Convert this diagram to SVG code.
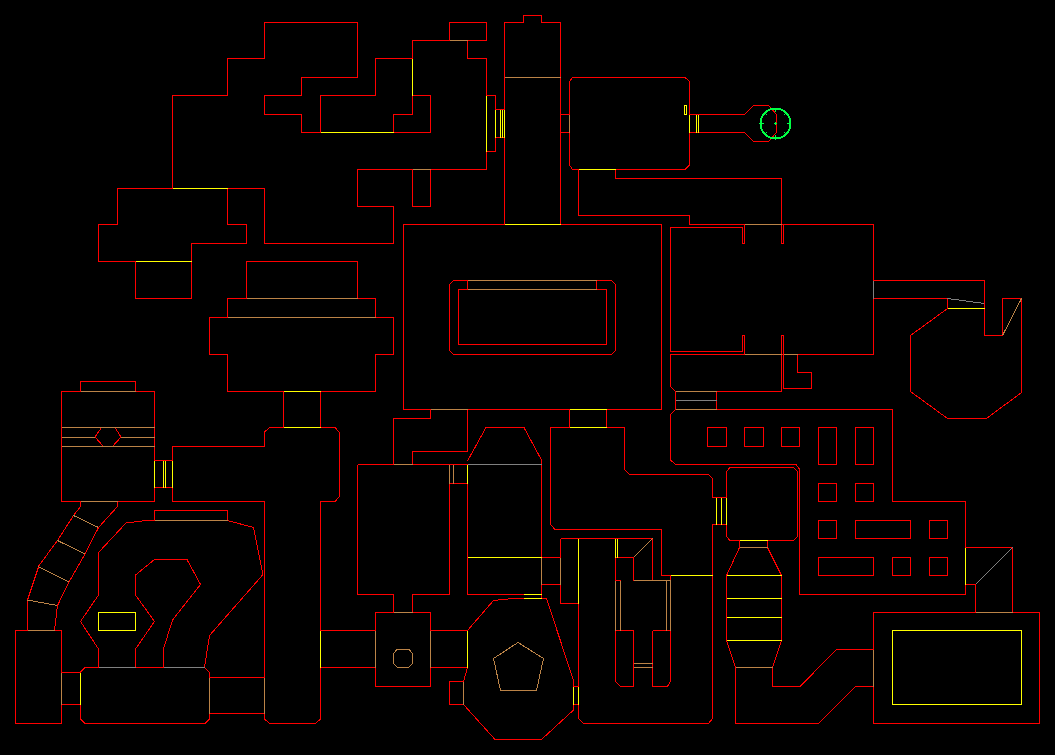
<svg xmlns="http://www.w3.org/2000/svg" width="1055" height="755" viewBox="0 0 1055 755">
<style>
path,circle{fill:none;stroke-width:1;shape-rendering:crispEdges}
.r{stroke:#ff0000}.y{stroke:#ffff00}.b{stroke:#bb8347}.g{stroke:#808080}
.c{stroke:#00ff44}
</style>
<rect width="1055" height="755" fill="#000000"/>
<g id="walls">
<path class="r" d="M172.5 188.5V95.5H227.5V58.5H264.5V22.5H357.5V77.5H301.5V95.5H264.5V114.5H301.5V132.5H320.5V95.5H375.5V58.5H412.5V95.5H430.5V132.5H393.5V114.5H412.5V95.5
M393.5 132.5H320.5
M412.5 58.5V40.5H449.5V22.5H486.5V40.5H467.5V58.5H486.5V169.5H357.5V206.5H393.5V243.5H264.5V188.5H117.5V224.5H98.5V261.5H191.5V243.5H246.5V224.5H227.5V188.5
M135.5 261.5V298.5H191.5V261.5
M412.5 169.5V206.5H430.5V169.5
M486.5 95.5H495.5V151.5H486.5
M495.5 109.5H504.5M495.5 137.5H504.5
M504.5 224.5V22.5H523.5V15.5H541.5V22.5H560.5V224.5
M403.5 224.5H661.5V409.5H403.5Z
M569.5 409.5V427.5M606.5 409.5V427.5
M560.5 114.5H569.5M560.5 132.5H569.5
M569.5 81.5L572.5 77.5H685L689.5 81.5V165L685 169.5H572.5L569.5 165Z
M689.5 114.5H744.5L753.5 105.5H768.5L776.5 114.5V132.5L768.5 141.5H753.5L744.5 132.5H689.5
M578.5 169.5V215.5H689.5V224.5H873.5V354.5H670.5V386.5L675.5 391.5V409.5L670.5 414.5V460L675.5 464.5H796L799.5 469V594.5H965.5V501.5H892.5V409.5H675.5
M615.5 169.5V178.5H781.5V243.5H783.5V224.5
M744.5 224.5V243.5H742.5V227.5H670.5V351.5H742.5V335.5H744.5V354.5
M781.5 354.5V335.5H783.5V388.5H811.5V372.5H797.5V354.5
M781.5 354.5V391.5H675.5M716.5 391.5V409.5
M873.5 280.5H984.5V335.5H1002.5V298.5H1021.5V392.5L986.5 418.5H947.5L910.5 391.5V335.5L947.5 308.5V298.5H873.5
M246.5 298.5V261.5H357.5V298.5H375.5V317.5H393.5V354.5H375.5V391.5H227.5V354.5H209.5V317.5H227.5V298.5Z
M283.5 391.5V427.5M320.5 391.5V427.5
M449.5 284.5L453.5 280.5H611.5L615.5 284.5V350.5L611.5 354.5H453.5L449.5 350.5Z
M458.5 289.5H606.5V344.5H458.5Z
M467.5 280.5V289.5M596.5 280.5V289.5
M430.5 409.5V418.5H393.5V464.5M412.5 464.5V451.5H467.5V409.5
M357.5 464.5H467.5M357.5 464.5V594.5H393.5V612.5M412.5 612.5V594.5H449.5V464.5
M449.5 483.5H467.5M467.5 464.5V594.5H523.5
M467.5 461L486 427.5H524L541.5 460V598.5
M541.5 557.5H560.5M541.5 584.5H560.5M560.5 538.5V603.5H578.5V718.5L583.5 723.5H708.5L712.5 718.5V524.5H726.5
M560.5 538.5H652.5V580.5M615.5 538.5V580.5M633.5 557.5H615.5M633.5 557.5V580.5M615.5 580.5H620.5M666.5 580.5H670.5V575.5H661.5V529.5H555L550.5 524.5V427.5H624.5V469.5L629.5 474.5H708.5L712.5 478.5V497.5H726.5
M615.5 630.5H633.5V686.5H620.5L615.5 681.5V630.5
M652.5 630.5H670.5V681.5L667.5 686.5H652.5V630.5
M615.5 580.5V630.5M670.5 580.5V630.5
M726.5 471.5L730 467.5H793.5L797.5 471.5V536.5L793.5 540.5H730L726.5 536.5Z
M739.5 540.5V547.5L726.5 575.5V640.5L735.5 667.5V723.5H818.5L855.5 686.5H873.5
M767.5 540.5V547.5L781.5 575.5V640.5L772.5 667.5V686.5H800L836.5 649.5H873.5
M873.5 612.5H1039.5V723.5H873.5Z
M965.5 547.5H1012.5V612.5M965.5 584.5H975.5V612.5
M707.5 427.5h19v19h-19zM744.5 427.5h19v19h-19zM781.5 427.5h18v19h-18zM818.5 427.5h18v37h-18zM855.5 427.5h18v37h-18z
M818.5 483.5h18v18h-18zM855.5 483.5h18v18h-18zM818.5 520.5h18v18h-18zM855.5 520.5h55v18h-55zM929.5 520.5h18v18h-18z
M818.5 557.5h55v18h-55zM892.5 557.5h18v18h-18zM929.5 557.5h18v18h-18z
M467.5 630.5L493.5 600.5L512.5 598.5H546.5L573.5 680.5V686.5H578.5M573.5 704.5H578.5M573.5 704.5V710L541.5 739.5H495L463.5 704.5H449.5V681.5H463.5L467.5 667.5H430.5V686.5H375.5V612.5H430.5V630.5H467.5
M320.5 630.5H375.5M320.5 667.5H375.5
M61.5 391.5H154.5V501.5H61.5ZM80.5 391.5V381.5H135.5V391.5
M101.5 427.5H115L121 437L112.5 446.5H103.5L95 437Z
M154.5 460.5H172.5M154.5 487.5H172.5
M172.5 460.5V446.5H264.5V432L269.5 427.5H335L339 432V497L335 501.5H320.5V719L315.5 723.5H269.5L264.5 719V501.5H172.5V487.5
M227.5 370V391.5H283.5
M80.5 501.5V506.5L73.5 515.5L57.5 540.5L39 565.5L27.5 600V630.5
M117.5 501.5V506.5L98.5 527.5L85 554L69 582L57.5 605.5L54.5 630.5
M15.5 630.5H61.5V723.5H15.5Z
M61.5 672.5H80.5M61.5 704.5H80.5
M80.5 672L85 667.5H98.5M135.5 667.5H163.5M204.5 667.5L209.5 672.5V719L205 723.5H85L80.5 719V704.5
M209.5 677.5H264.5M209.5 713.5H264.5
M98.5 667.5V649L80.5 621.5L98.5 595V552.5L126 523L146.5 520.5H154.5V510.5H227.5V520.5L253.5 527.5L263 574.5L209.5 635.5L204.5 667.5
M135.5 667.5V649L154.5 621.5L135.5 595V575L154.5 559.5H187L200.5 584.5L172.5 620L163.5 649V667.5"/>
<path class="b" d="M449.5 40.5H467.5M504.5 77.5H560.5M412.5 169.5H430.5M569.5 114.5V132.5
M744.5 224.5H781.5M744.5 354.5H781.5M783.5 354.5H797.5M675.5 391.5H716.5M675.5 409.5H716.5
M1002.5 335.5L1021.5 298.5
M246.5 298.5H357.5M227.5 317.5H375.5
M467.5 280.5H596.5M467.5 289.5H596.5M430.5 409.5H467.5M393.5 464.5H412.5
M449.5 464.5V483.5M453.5 464.5V483.5
M541.5 557.5V584.5M560.5 557.5V584.5
M633.5 557.5L652.5 538.5M633.5 580.5H670.5
M615.5 580.5V630.5M620.5 580.5V630.5M666.5 580.5V630.5M670.5 580.5V630.5
M633.5 663.5H652.5M633.5 667.5H652.5
M739.5 547.5H767.5M735.5 667.5H772.5M873.5 649.5V686.5M975.5 612.5H1012.5
M393.5 612.5H412.5M375.5 630.5V667.5M430.5 630.5V667.5
M397.5 649H408.5L412.5 653.5V663.5L408.5 667.5H397.5L393.5 663.5V653.5Z
M518 642.5L543.5 658.5L536.5 690.5H500.5L493.5 658.5Z
M463.5 681.5V704.5
M80.5 391.5H135.5M61.5 427.5H154.5M61.5 437.5H95M121 437.5H154.5M61.5 446.5H154.5
M80.5 501.5H117.5M73.5 515.5L98.5 527.5M57.5 540.5L85 554M38 566.5L69 582M27.5 600L57.5 605.5M27.5 630.5H54.5
M61.5 672.5V704.5M154.5 520.5H227.5M209.5 677.5V713.5M264.5 677.5V713.5"/>
<path class="g" d="M873.5 280.5V298.5M947.5 298.5L984.5 303.5M675.5 400.5H716.5M467.5 464.5H541.5M98.5 667.5H135.5M163.5 667.5H204.5M975.5 584.5L1012.5 547.5"/>
<path class="y" d="M320.5 132.5H393.5M172.5 188.5H227.5M412.5 58.5V95.5M486.5 95.5V151.5M495.5 109.5V137.5M500.5 109.5V137.5M502.5 109.5V137.5M504.5 109.5V137.5M504.5 224.5H560.5
M684.5 105.5h2v9h-2zM689.5 114.5V132.5M696.5 114.5V132.5M698.5 114.5V132.5M578.5 169.5H615.5
M947.5 308.5H984.5M135.5 261.5H191.5M283.5 391.5H320.5M283.5 427.5H320.5M569.5 409.5H606.5M569.5 427.5H606.5
M467.5 464.5V483.5M467.5 557.5H541.5M523.5 594.5H541.5M523.5 598.5H541.5M578.5 538.5V603.5
M615.5 538.5V557.5M617.5 538.5V557.5M670.5 575.5H712.5
M716.5 497.5V524.5M721.5 497.5V524.5M726.5 497.5V524.5M739.5 540.5H767.5
M726.5 575.5H781.5M726.5 598.5H781.5M726.5 617.5H781.5M726.5 640.5H781.5
M892.5 630.5H1021.5V704.5H892.5ZM965.5 547.5V584.5
M467.5 630.5V667.5M320.5 630.5V667.5M573.5 686.5V704.5M578.5 686.5V704.5
M154.5 460.5V487.5M163.5 460.5V487.5M165.5 460.5V487.5M172.5 460.5V487.5
M80.5 672.5V704.5M98.5 612.5H135.5V630.5H98.5Z"/>
</g>
<g id="compass">
<circle class="c" cx="775.5" cy="123.5" r="15" style="stroke-width:2"/>
<path class="c" d="M775.5 109V112M775.5 135V138M761 123.5H764M787 123.5H790M765 113L767 115M786 113L784 115M765 134L767 132M786 134L784 132M774 123.5H777M775.5 122V125"/>
</g>
</svg>
